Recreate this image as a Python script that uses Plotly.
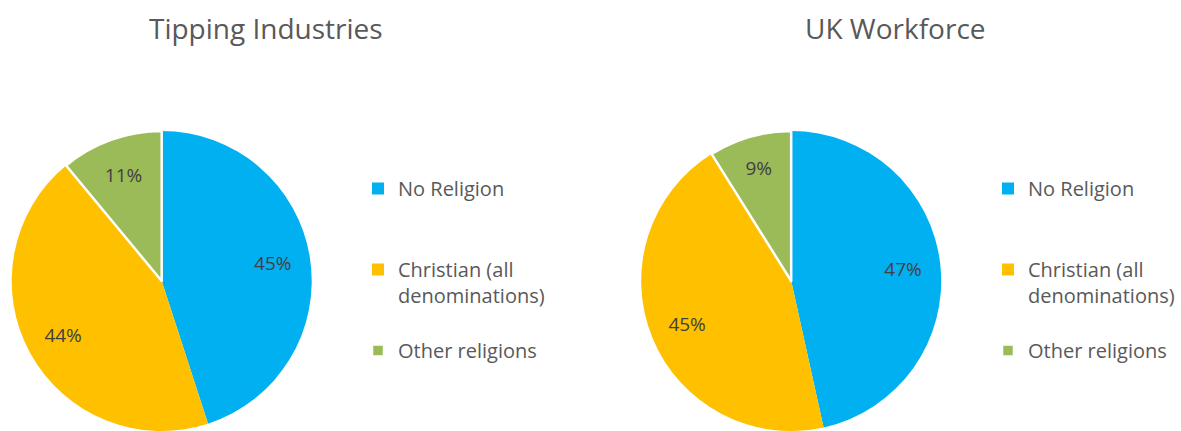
import plotly.graph_objects as go

categories = ["No Religion", "Christian (all<br>denominations)", "Other religions"]
colors = ["#00B0F0", "#FFC000", "#9BBB59"]

tipping_pct = [45, 44, 11]
uk_pct = [47, 45, 9]

titles = ["Tipping Industries", "UK Workforce"]

W, H = 1181, 431
FONT = "Open Sans"

# blank trailing lines give the legend entries the spacing of the original
legend_pad = ["<br> <br> ", "<br> ", ""]

fig = go.Figure()


def add_pie(values, dom_x, legend, suffix):
    names = [c + p + suffix for c, p in zip(categories, legend_pad)]
    dom = dict(x=dom_x, y=[0, 300 / H])
    # coloured slices + legend
    fig.add_trace(go.Pie(
        labels=names, values=values, textinfo="none",
        sort=False, direction="clockwise", rotation=0,
        marker=dict(colors=colors, line=dict(color="white", width=[0, 0, 2.5])),
        domain=dom, legend=legend,
        hovertemplate="%{label}: %{value}%<extra></extra>",
    ))
    # transparent ring carrying the percentage labels (placed at 3/4 radius)
    fig.add_trace(go.Pie(
        labels=[n + " lbl" for n in names], values=values, hole=0.5,
        texttemplate="%{value}%", textposition="inside",
        insidetextorientation="horizontal",
        sort=False, direction="clockwise", rotation=0,
        marker=dict(colors=["rgba(0,0,0,0)"] * 3, line=dict(width=0)),
        textfont=dict(family=FONT, size=19, color="#404040"),
        domain=dom, showlegend=False, hoverinfo="skip",
    ))


add_pie(tipping_pct, [11.7 / W, 311.7 / W], "legend", "")
add_pie(uk_pct, [641.2 / W, 941.2 / W], "legend2", "\u200b")

legend_style = dict(font=dict(family=FONT, size=20, color="#595959"),
                    xanchor="left", yanchor="top", valign="top",
                    bgcolor="rgba(0,0,0,0)", traceorder="normal")

fig.update_layout(
    width=W, height=H,
    margin=dict(l=0, r=0, t=0, b=0),
    paper_bgcolor="white",
    plot_bgcolor="white",
    legend=dict(x=358 / W, y=1 - 169 / H, **legend_style),
    legend2=dict(x=988 / W, y=1 - 169 / H, **legend_style),
    annotations=[
        dict(text=titles[0], x=266 / W, y=1 - 28 / H, xref="paper", yref="paper",
             xanchor="center", yanchor="middle", showarrow=False,
             font=dict(family=FONT, size=28, color="#595959")),
        dict(text=titles[1], x=895.5 / W, y=1 - 28 / H, xref="paper", yref="paper",
             xanchor="center", yanchor="middle", showarrow=False,
             font=dict(family=FONT, size=28, color="#595959")),
    ],
)

fig.write_html("out.html")
